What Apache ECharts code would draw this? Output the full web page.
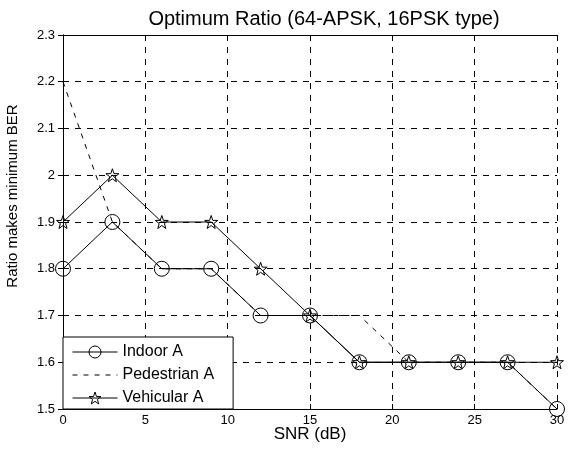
<!DOCTYPE html>
<html>
<head>
<meta charset="utf-8">
<script src="https://cdn.jsdelivr.net/npm/echarts@6/dist/echarts.min.js"></script>
<style>
  html, body { margin: 0; padding: 0; background: #fff; }
  #chart { width: 574px; height: 450px; }
</style>
</head>
<body>
<div id="chart"></div>
<script>
  // SNR points (dB)
  var snr = [0, 3, 6, 9, 12, 15, 18, 21, 24, 27, 30];
  // optimum ratio per channel model
  var indoorA = [1.8, 1.9, 1.8, 1.8, 1.7, 1.7, 1.6, 1.6, 1.6, 1.6, 1.5];
  var pedestrianA = [2.2, 1.9, 1.8, 1.8, 1.7, 1.7, 1.7, 1.6, 1.6, 1.6, 1.5];
  var vehicularA = [1.9, 2.0, 1.9, 1.9, 1.8, 1.7, 1.6, 1.6, 1.6, 1.6, 1.6];

  var FONT = 'Liberation Sans, Arial, sans-serif';
  var STAR = 'path://M50,0L61.76,33.82L97.55,34.55L69.02,56.18L79.39,90.45L50,70L20.61,90.45L30.98,56.18L2.45,34.55L38.24,33.82Z';

  function pairs(ys) {
    return snr.map(function (x, i) { return [x, ys[i]]; });
  }

  var chart = echarts.init(document.getElementById('chart'));

  var hollow = { color: 'rgba(0,0,0,0)', borderColor: '#000', borderWidth: 1 };

  var option = {
    backgroundColor: '#fff',
    animation: false,
    title: {
      text: 'Optimum Ratio (64-APSK, 16PSK type)',
      left: 319,
      top: 4,
      textAlign: 'center',
      textStyle: { fontFamily: FONT, fontSize: 20, fontWeight: 'normal', color: '#000' }
    },
    legend: {
      orient: 'vertical',
      left: 63,
      top: 337,
      itemWidth: 45,
      itemHeight: 15,
      itemGap: 7,
      padding: [7, 19, 3, 9],
      borderColor: '#000',
      borderWidth: 1,
      borderRadius: 0,
      backgroundColor: '#fff',
      lineStyle: { width: 1 },
      itemStyle: { borderWidth: 1 },
      textStyle: { fontFamily: FONT, fontSize: 16, color: '#000' },
      data: [
        'Indoor A',
        { name: 'Pedestrian A', itemStyle: { opacity: 0 } },
        'Vehicular A'
      ]
    },
    grid: { left: 63, right: 17, top: 35, bottom: 41, outerBoundsMode: 'none' },
    xAxis: [{
      type: 'value',
      min: 0, max: 30, interval: 5,
      name: 'SNR (dB)',
      nameLocation: 'middle',
      nameGap: 17,
      nameMoveOverlap: false,
      nameTextStyle: { fontFamily: FONT, fontSize: 17, color: '#000' },
      axisLine: { lineStyle: { color: '#000', width: 1 } },
      axisTick: { inside: true, length: 5, lineStyle: { color: '#000' } },
      axisLabel: { fontFamily: FONT, fontSize: 13, color: '#000', margin: 5 },
      splitLine: { show: true, lineStyle: { color: '#000', type: [6, 6], width: 1 } }
    }, {
      type: 'value', position: 'top',
      min: 0, max: 30, interval: 5,
      axisLine: { lineStyle: { color: '#000' } },
      axisTick: { inside: true, length: 5, lineStyle: { color: '#000' } },
      axisLabel: { show: false },
      splitLine: { show: false }
    }],
    yAxis: [{
      type: 'value',
      min: 1.5, max: 2.3, interval: 0.1,
      name: 'Ratio makes minimum BER',
      nameLocation: 'middle',
      nameGap: 43,
      nameMoveOverlap: false,
      nameTextStyle: { fontFamily: FONT, fontSize: 15, color: '#000', padding: [0, 0, 0, 52] },
      axisLine: { show: true, lineStyle: { color: '#000', width: 1 } },
      axisTick: { show: true, inside: true, length: 5, lineStyle: { color: '#000' } },
      axisLabel: {
        fontFamily: FONT, fontSize: 13, color: '#000', margin: 8,
        formatter: function (v) { return +v.toFixed(1) + ''; }
      },
      splitLine: { show: true, lineStyle: { color: '#000', type: [6, 6], width: 1 } }
    }, {
      type: 'value', position: 'right',
      min: 1.5, max: 2.3, interval: 0.1,
      axisLine: { show: true, lineStyle: { color: '#000' } },
      axisTick: { show: true, inside: true, length: 5, lineStyle: { color: '#000' } },
      axisLabel: { show: false },
      splitLine: { show: false }
    }],
    series: [{
      name: 'Pedestrian A',
      type: 'line',
      data: pairs(pedestrianA),
      symbol: 'none',
      lineStyle: { color: '#000', width: 1, type: [5, 6] },
      itemStyle: { color: '#000' },
      z: 2
    }, {
      name: 'Indoor A',
      type: 'line',
      data: pairs(indoorA),
      symbol: 'circle',
      symbolSize: 15,
      showAllSymbol: true,
      lineStyle: { color: '#000', width: 1 },
      itemStyle: hollow,
      z: 3
    }, {
      name: 'Vehicular A',
      type: 'line',
      data: pairs(vehicularA),
      symbol: STAR,
      symbolSize: 13,
      showAllSymbol: true,
      lineStyle: { color: '#000', width: 1 },
      itemStyle: hollow,
      z: 4
    }]
  };

  chart.setOption(option);
</script>
</body>
</html>
